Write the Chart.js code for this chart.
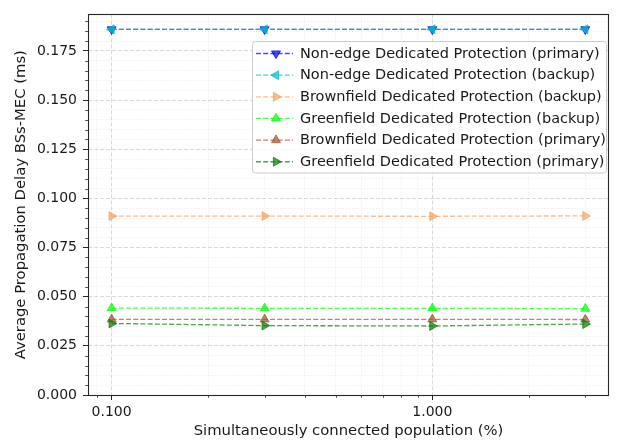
<!DOCTYPE html>
<html><head><meta charset="utf-8">
<script src="https://cdn.jsdelivr.net/npm/chart.js@4.4.0/dist/chart.umd.min.js"></script>
<style>html,body{margin:0;padding:0;background:#fff}</style>
</head><body>
<canvas id="c" width="617" height="441"></canvas>
<script>
// ---- data ----
const populations = [0.1, 0.3, 1.0, 3.0];
const seriesNames = [
  'Non-edge Dedicated Protection (primary)',
  'Non-edge Dedicated Protection (backup)',
  'Brownfield Dedicated Protection (backup)',
  'Greenfield Dedicated Protection (backup)',
  'Brownfield Dedicated Protection (primary)',
  'Greenfield Dedicated Protection (primary)'
];
const nonEdgePrimary    = [0.1860, 0.1860, 0.1860, 0.1860];
const nonEdgeBackup     = [0.1860, 0.1860, 0.1860, 0.1860];
const brownfieldBackup  = [0.0910, 0.0910, 0.0909, 0.0911];
const greenfieldBackup  = [0.0442, 0.0441, 0.0441, 0.0439];
const brownfieldPrimary = [0.0385, 0.0385, 0.0385, 0.0384];
const greenfieldPrimary = [0.0364, 0.0353, 0.0351, 0.0361];

const xMajorTicks = [0.1, 1.0];
const xMinorTicks = [0.09, 0.2, 0.3, 0.4, 0.5, 0.6, 0.7, 0.8, 0.9, 2, 3];
const yMajorTicks = [0, 0.025, 0.05, 0.075, 0.1, 0.125, 0.15, 0.175];
const yMinorTicks = [0.005,0.01,0.015,0.02,0.03,0.035,0.04,0.045,0.055,0.06,0.065,0.07,
  0.08,0.085,0.09,0.095,0.105,0.11,0.115,0.12,0.13,0.135,0.14,0.145,0.155,0.16,0.165,0.17,
  0.18,0.185,0.19];
const xLimits = [0.0844, 3.556];
const yLimits = [0, 0.1936];

// ---- styles ----
const seriesValues = [nonEdgePrimary, nonEdgeBackup, brownfieldBackup, greenfieldBackup, brownfieldPrimary, greenfieldPrimary];
const seriesColors = ['rgba(0,0,255,0.7)', 'rgba(0,191,191,0.7)', 'rgba(244,164,96,0.7)',
                      'rgba(0,255,0,0.7)', 'rgba(160,82,45,0.7)', 'rgba(0,128,0,0.7)'];
const seriesRotation = [180, 270, 90, 0, 0, 90];
const DASH = [5, 2.2];
const FONT = 'DejaVu Sans';
const TXT = '#1a1a1a';

const datasets = seriesValues.map((vals, i) => ({
  label: seriesNames[i],
  data: populations.map((x, j) => ({x: x, y: vals[j]})),
  borderColor: seriesColors[i],
  backgroundColor: seriesColors[i],
  borderWidth: 1.3,
  borderDash: DASH,
  pointStyle: 'triangle',
  pointRotation: seriesRotation[i],
  pointRadius: 5.2,
  pointBorderWidth: 1,
  pointBorderColor: seriesColors[i],
  pointBackgroundColor: seriesColors[i],
  fill: false,
  tension: 0,
  order: 10 - i
}));

function isMajorX(v){ return xMajorTicks.some(m => Math.abs(m - v) < 1e-9); }
function isMajorY(v){ return yMajorTicks.some(m => Math.abs(m - v) < 1e-9); }

function triangle(ctx, x, y, r, rotDeg){
  let rad = rotDeg * Math.PI / 180;
  ctx.beginPath();
  ctx.moveTo(x + Math.sin(rad) * r, y - Math.cos(rad) * r);
  rad += 2 * Math.PI / 3;
  ctx.lineTo(x + Math.sin(rad) * r, y - Math.cos(rad) * r);
  rad += 2 * Math.PI / 3;
  ctx.lineTo(x + Math.sin(rad) * r, y - Math.cos(rad) * r);
  ctx.closePath();
}

const extras = {
  id: 'extras',
  afterDraw(chart){
    const ctx = chart.ctx;
    const a = chart.chartArea;
    const xs = chart.scales.x, ys = chart.scales.y;
    ctx.save();
    // minor tick marks
    ctx.strokeStyle = '#262626';
    ctx.lineWidth = 0.8;
    ctx.beginPath();
    xMinorTicks.forEach(v => {
      const px = Math.round(xs.getPixelForValue(v)) + 0.5;
      ctx.moveTo(px, a.bottom); ctx.lineTo(px, a.bottom + 2.8);
    });
    yMinorTicks.forEach(v => {
      const py = Math.round(ys.getPixelForValue(v)) + 0.5;
      ctx.moveTo(a.left - 2.8, py); ctx.lineTo(a.left, py);
    });
    ctx.stroke();
    // frame
    ctx.lineWidth = 1.1;
    ctx.strokeStyle = '#262626';
    ctx.strokeRect(Math.round(a.left) + 0.5, Math.round(a.top) + 0.5,
                   Math.round(a.right - a.left) - 1, Math.round(a.bottom - a.top));
    // legend
    const bx = 252.5, by = 41.5, bw = 354, bh = 131.5, rr = 3;
    ctx.beginPath();
    ctx.moveTo(bx + rr, by);
    ctx.lineTo(bx + bw - rr, by); ctx.quadraticCurveTo(bx + bw, by, bx + bw, by + rr);
    ctx.lineTo(bx + bw, by + bh - rr); ctx.quadraticCurveTo(bx + bw, by + bh, bx + bw - rr, by + bh);
    ctx.lineTo(bx + rr, by + bh); ctx.quadraticCurveTo(bx, by + bh, bx, by + bh - rr);
    ctx.lineTo(bx, by + rr); ctx.quadraticCurveTo(bx, by, bx + rr, by);
    ctx.closePath();
    ctx.fillStyle = 'rgba(255,255,255,0.8)';
    ctx.fill();
    ctx.strokeStyle = '#cccccc';
    ctx.lineWidth = 1;
    ctx.stroke();
    ctx.font = '14.5px "' + FONT + '"';
    ctx.textBaseline = 'middle';
    ctx.textAlign = 'left';
    seriesNames.forEach((name, i) => {
      const cy = 53.5 + i * 21.65;
      ctx.strokeStyle = seriesColors[i];
      ctx.lineWidth = 1.3;
      ctx.setLineDash(DASH);
      ctx.beginPath();
      ctx.moveTo(256, cy); ctx.lineTo(293, cy);
      ctx.stroke();
      ctx.setLineDash([]);
      triangle(ctx, 276, cy, 5.2, seriesRotation[i]);
      ctx.fillStyle = seriesColors[i];
      ctx.fill();
      ctx.lineWidth = 1;
      ctx.stroke();
      ctx.fillStyle = TXT;
      ctx.fillText(name, 300, cy + 0.5);
    });
    ctx.restore();
  }
};

new Chart(document.getElementById('c'), {
  type: 'line',
  data: { datasets: datasets },
  plugins: [extras],
  options: {
    responsive: false,
    animation: false,
    devicePixelRatio: 1,
    layout: { padding: { left: 0, right: 8, top: 7, bottom: 0 } },
    plugins: { legend: { display: false }, tooltip: { enabled: false } },
    scales: {
      x: {
        type: 'logarithmic',
        position: 'bottom',
        min: xLimits[0], max: xLimits[1],
        afterBuildTicks: s => {
          s.ticks = xMinorTicks.concat(xMajorTicks).sort((p, q) => p - q)
            .map(v => ({ value: v, major: isMajorX(v) }));
        },
        afterFit: s => { s.height = 46; },
        ticks: {
          autoSkip: false, maxRotation: 0, minRotation: 0, padding: 4,
          color: TXT, font: { family: FONT, size: 14 },
          callback: v => isMajorX(v) ? v.toFixed(3) : ''
        },
        grid: {
          drawTicks: true, tickLength: 5,
          color: c => (c.tick && isMajorX(c.tick.value)) ? 'rgba(176,176,176,0.6)' : 'rgba(176,176,176,0.3)',
          lineWidth: c => (c.tick && isMajorX(c.tick.value)) ? 0.8 : 0.6,
          tickColor: c => (c.tick && isMajorX(c.tick.value)) ? '#262626' : 'rgba(0,0,0,0)',
          tickWidth: 1
        },
        border: {
          display: false,
          dash: c => (c.tick && isMajorX(c.tick.value)) ? [4, 2] : [1.5, 1.5]
        },
        title: {
          display: true, text: 'Simultaneously connected population (%)',
          color: TXT, font: { family: FONT, size: 14.8 },
          padding: { top: 0, bottom: 1 }
        }
      },
      y: {
        type: 'linear',
        position: 'left',
        min: yLimits[0], max: yLimits[1],
        afterBuildTicks: s => {
          s.ticks = yMinorTicks.concat(yMajorTicks).sort((p, q) => p - q)
            .map(v => ({ value: v, major: isMajorY(v) }));
        },
        afterFit: s => { s.width = 88; },
        ticks: {
          autoSkip: false, padding: 6,
          color: TXT, font: { family: FONT, size: 14 },
          callback: v => isMajorY(v) ? v.toFixed(3) : ''
        },
        grid: {
          drawTicks: true, tickLength: 5,
          color: c => (c.tick && isMajorY(c.tick.value)) ? 'rgba(176,176,176,0.6)' : 'rgba(176,176,176,0.3)',
          lineWidth: c => (c.tick && isMajorY(c.tick.value)) ? 0.8 : 0.6,
          tickColor: c => (c.tick && isMajorY(c.tick.value)) ? '#262626' : 'rgba(0,0,0,0)',
          tickWidth: 1
        },
        border: {
          display: false,
          dash: c => (c.tick && isMajorY(c.tick.value)) ? [4, 2] : [1.5, 1.5]
        },
        title: {
          display: true, text: 'Average Propagation Delay BSs-MEC (ms)',
          color: TXT, font: { family: FONT, size: 14.8 },
          padding: { top: 12.5, bottom: 0 }
        }
      }
    }
  }
});
</script>
</body></html>
